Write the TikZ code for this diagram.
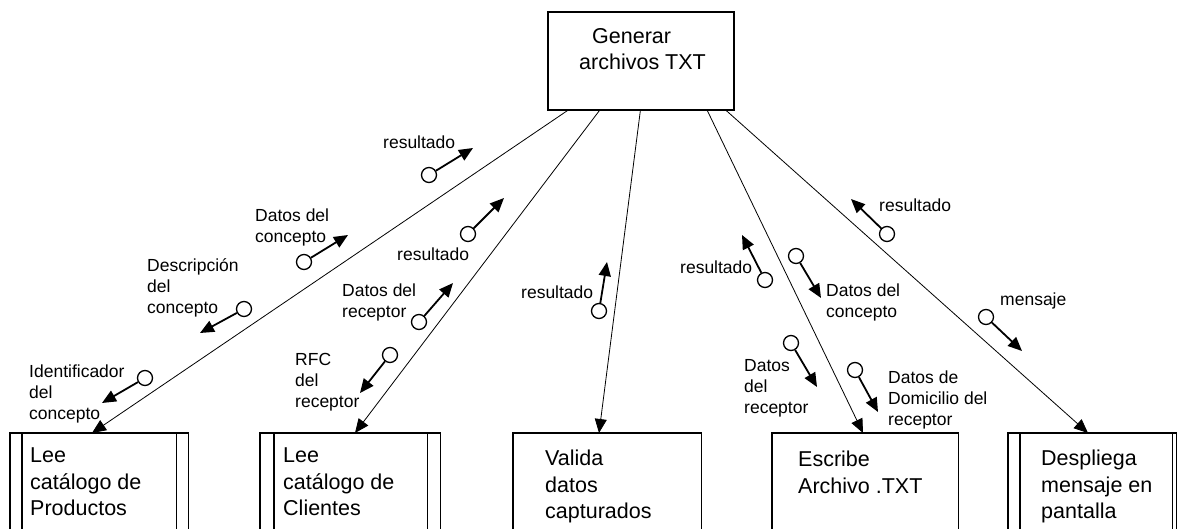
\documentclass[tikz,border=0pt]{standalone}
\usepackage{fontspec}
\setmainfont{Liberation Sans}
\usetikzlibrary{arrows.meta}
\tikzset{
 conn/.style={line width=0.8pt, -{Triangle[length=14pt,width=12pt]}},
 marrow/.style={line width=1.8pt, -{Triangle[length=14pt,width=12pt]}},
 dot/.style={circle, draw, line width=1.3pt, minimum size=15pt, inner sep=0pt, fill=white},
 lbl/.style={font=\fontsize{17.5}{21}\selectfont, align=left, inner sep=0pt, anchor=west},
 boxtxt/.style={font=\fontsize{21.5}{26.5}\selectfont, align=left, inner sep=0pt, anchor=north west},
 boxnode/.style={draw=none, inner sep=0pt, anchor=north west, minimum height=96pt},
 boxline/.style={line width=1.3pt},
}
\begin{document}
\begin{tikzpicture}[x=1pt,y=-1pt]
\useasboundingbox[fill=white] (0,0) rectangle (1177,529);

% top box
\node[draw, line width=1.3pt, minimum width=186pt, minimum height=98pt, inner sep=0pt] (top) at (641,61) {};
\node[boxtxt] (topt) at (579,28) {\hspace*{13pt}Generar\\archivos TXT};

% bottom boxes
\node[boxnode, minimum width=178pt] (b1) at (10,433) {};
\node[boxnode, minimum width=180pt] (b2) at (260,433) {};
\node[boxnode, minimum width=188pt] (b3) at (513,433) {};
\node[boxnode, minimum width=186pt] (b4) at (772,433) {};
\node[boxnode, minimum width=168pt] (b5) at (1008,433) {};
\foreach \b in {b1,b2,b3,b4,b5}{
  \draw[boxline] (\b.south west) |- (\b.north east) -- (\b.south east);
}
\draw[boxline] ([xshift=12pt]b1.south west) -- ([xshift=12pt]b1.north west);
\draw[boxline] ([xshift=-12pt]b1.south east) -- ([xshift=-12pt]b1.north east);
\draw[boxline] ([xshift=14pt]b2.south west) -- ([xshift=14pt]b2.north west);
\draw[boxline] ([xshift=-13pt]b2.south east) -- ([xshift=-13pt]b2.north east);
\draw[boxline] ([xshift=12pt]b5.south west) -- ([xshift=12pt]b5.north west);
\draw[boxline] ([xshift=-4pt]b5.south east) -- ([xshift=-4pt]b5.north east);

\node[boxtxt] (b1t) at (30,448) {Lee\\catálogo de\\Productos};
\node[boxtxt] (b2t) at (283,448) {Lee\\catálogo de\\Clientes};
\node[boxtxt] (b3t) at (545,450) {Valida\\datos\\capturados};
\node[boxtxt] (b4t) at (798,451) {Escribe\\Archivo .TXT};
\node[boxtxt] (b5t) at (1041,450) {Despliega\\mensaje en\\pantalla};

% main connectors
\draw[conn] ([xshift=20pt]top.south west) -- ([xshift=82pt]b1.north west);
\draw[conn] ([xshift=52pt]top.south west) -- ([xshift=95pt]b2.north west);
\draw[conn] ([xshift=93pt]top.south west) -- ([xshift=86pt]b3.north west);
\draw[conn] ([xshift=160pt]top.south west) -- ([xshift=91pt]b4.north west);
\draw[conn] ([xshift=179pt]top.south west) -- ([xshift=80pt]b5.north west);

% data flow markers
\node[dot] (c1) at (429,175) {}; \coordinate (a1) at (473,148); \draw[marrow] (c1) -- (a1);
\node[dot] (c2) at (304,262) {}; \coordinate (a2) at (348,235); \draw[marrow] (c2) -- (a2);
\node[dot] (c3) at (244,309) {}; \coordinate (a3) at (200,333); \draw[marrow] (c3) -- (a3);
\node[dot] (c4) at (468,234) {}; \coordinate (a4) at (504,198); \draw[marrow] (c4) -- (a4);
\node[dot] (c5) at (419,322) {}; \coordinate (a5) at (453,283); \draw[marrow] (c5) -- (a5);
\node[dot] (c6) at (390,355) {}; \coordinate (a6) at (360,393); \draw[marrow] (c6) -- (a6);
\node[dot] (c7) at (145,378) {}; \coordinate (a7) at (102,403); \draw[marrow] (c7) -- (a7);
\node[dot] (c8) at (599,311) {}; \coordinate (a8) at (607,262); \draw[marrow] (c8) -- (a8);
\node[dot] (c9) at (765,280) {}; \coordinate (a9) at (742,235); \draw[marrow] (c9) -- (a9);
\node[dot] (c10) at (796,256) {}; \coordinate (a10) at (821,298); \draw[marrow] (c10) -- (a10);
\node[dot] (c11) at (887,234) {}; \coordinate (a11) at (851,199); \draw[marrow] (c11) -- (a11);
\node[dot] (c12) at (986,317) {}; \coordinate (a12) at (1022,351); \draw[marrow] (c12) -- (a12);
\node[dot] (c13) at (791,343) {}; \coordinate (a13) at (817,387); \draw[marrow] (c13) -- (a13);
\node[dot] (c14) at (855,370) {}; \coordinate (a14) at (878,412); \draw[marrow] (c14) -- (a14);

% labels
\node[lbl] (l1) at (383,142) {resultado};
\node[lbl] (l2) at (255,227.5) {Datos del\\concepto};
\node[lbl] (l3) at (147,288) {Descripción\\del\\concepto};
\node[lbl] (l4) at (397,254) {resultado};
\node[lbl] (l5) at (342,302) {Datos del\\receptor};
\node[lbl] (l6) at (295,382) {RFC\\del\\receptor};
\node[lbl] (l7) at (29,394) {Identificador\\del\\concepto};
\node[lbl] (l8) at (521,292) {resultado};
\node[lbl] (l9) at (680,267) {resultado};
\node[lbl] (l10) at (826,302) {Datos del\\concepto};
\node[lbl] (l11) at (879,205) {resultado};
\node[lbl] (l12) at (1000,301) {mensaje};
\node[lbl] (l13) at (744,388) {Datos\\del\\receptor};
\node[lbl] (l14) at (888,400) {Datos de\\Domicilio del\\receptor};
\end{tikzpicture}
\end{document}
